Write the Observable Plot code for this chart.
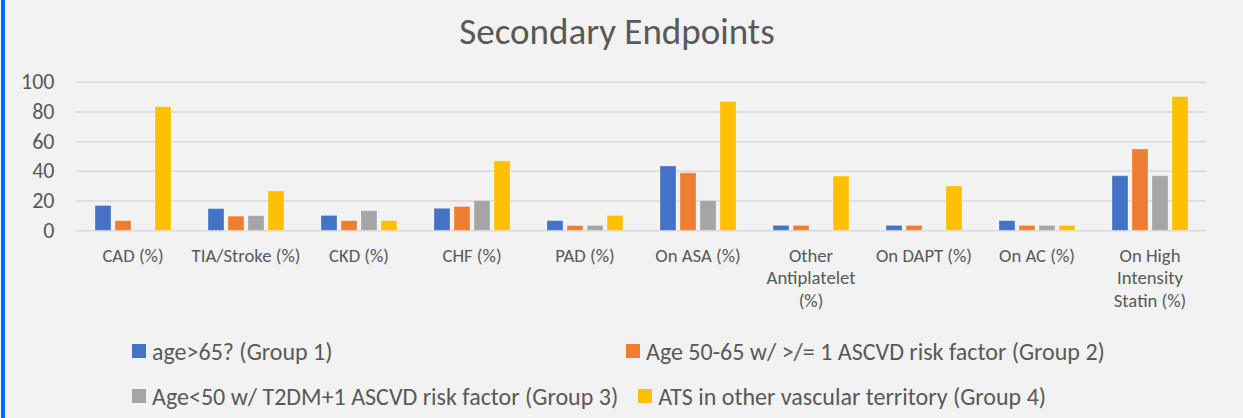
<!DOCTYPE html>
<html><head><meta charset="utf-8">
<script src="https://cdn.jsdelivr.net/npm/d3@7"></script>
<script src="https://cdn.jsdelivr.net/npm/@observablehq/plot@0.6"></script>
<style>
body{margin:0;background:#f2f2f2;font-family:Carlito,Calibri,sans-serif;color:#595959;}
#wrap{position:relative;width:1243px;height:418px;overflow:hidden;background:#f2f2f2;}
#edge{position:absolute;left:1px;top:0;width:4px;height:418px;background:#0066ff;}
#title{position:absolute;left:0;width:1234px;top:12.7px;text-align:center;font-size:37px;line-height:1;white-space:nowrap;}
#chart{position:absolute;left:0;top:0;}
.legrow{position:absolute;left:132px;display:flex;align-items:center;font-size:24px;line-height:24px;white-space:nowrap;}
.item{display:flex;align-items:center;min-width:474px;margin-right:20px;}
.sw{width:14px;height:14px;margin-right:6px;position:relative;top:-1px;}
</style></head>
<body><div id="wrap"><div id="edge"></div><div id="title">Secondary Endpoints</div><div id="chart"></div><div id="legend"></div></div>
<script>
const categories = ["CAD (%)", "TIA/Stroke (%)", "CKD (%)", "CHF (%)", "PAD (%)", "On ASA (%)", "Other Antiplatelet (%)", "On DAPT (%)", "On AC (%)", "On High Intensity Statin (%)"];
const tickLabels = ["CAD (%)", "TIA/Stroke (%)", "CKD (%)", "CHF (%)", "PAD (%)", "On ASA (%)", "Other\nAntiplatelet\n(%)", "On DAPT (%)", "On AC (%)", "On High\nIntensity\nStatin (%)"];
const series = ["age>65? (Group 1)", "Age 50-65 w/ >/= 1 ASCVD risk factor (Group 2)", "Age<50 w/ T2DM+1 ASCVD risk factor (Group 3)", "ATS in other vascular territory (Group 4)"];
const group1 = [16.7, 14.6, 10, 14.8, 6.5, 43.3, 3.3, 3.3, 6.5, 36.7];
const group2 = [6.5, 9.5, 6.5, 16, 3.2, 38.7, 3.3, 3.3, 3.3, 54.7];
const group3 = [0, 9.8, 13.2, 20, 3.3, 20, 0, 0, 3.3, 36.7];
const group4 = [83.2, 26.5, 6.5, 46.7, 10, 86.7, 36.5, 29.8, 3.3, 90];
const colors = ["#4472c4", "#ed7d31", "#a5a5a5", "#ffc000"];
const yTicks = [0, 20, 40, 60, 80, 100];

const groups = [group1, group2, group3, group4];
const data = [];
categories.forEach((c, i) => series.forEach((s, j) => data.push({category: c, series: s, value: groups[j][i]})));

const H = 330;
const chart = Plot.plot({
  width: 1243, height: H,
  marginTop: 81.7, marginBottom: H - 230.3, marginLeft: 74, marginRight: 35,
  style: {background: "transparent", fontFamily: "Carlito, Calibri, sans-serif", color: "#595959"},
  fx: {domain: categories, padding: 0, label: null},
  x: {domain: series, paddingInner: 0.2, paddingOuter: 0.86, axis: null},
  y: {domain: [0, 100], label: null},
  color: {domain: series, range: colors},
  marks: [
    Plot.ruleY(yTicks, {stroke: "#d9d9d9", strokeWidth: 1.5}),
    Plot.barY(data.filter(d => d.value > 0), {fx: "category", x: "series", y: "value", fill: "series", stroke: "white", strokeOpacity: 0.3, strokeWidth: 1}),
    Plot.axisY({ticks: yTicks, tickSize: 0, tickPadding: 22, fontSize: 22, fill: "#595959", label: null}),
    Plot.axisFx({anchor: "bottom", tickSize: 0, tickPadding: 15, fontSize: 18.7, lineHeight: 1.2, fill: "#595959", label: null,
      tickFormat: c => tickLabels[categories.indexOf(c)]})
  ]
});
document.getElementById("chart").append(chart);

const color = chart.scale("color");
const legend = document.getElementById("legend");
const rows = [[0, 1], [2, 3]];
const rowTops = [340.3, 385.3];
rows.forEach((r, k) => {
  const row = document.createElement("div");
  row.className = "legrow";
  row.style.top = rowTops[k] + "px";
  r.forEach(j => {
    const it = document.createElement("div");
    it.className = "item";
    const sw = document.createElement("span");
    sw.className = "sw";
    sw.style.background = color.apply(series[j]);
    const t = document.createElement("span");
    t.textContent = series[j];
    it.append(sw, t);
    row.append(it);
  });
  legend.append(row);
});
</script></body></html>
